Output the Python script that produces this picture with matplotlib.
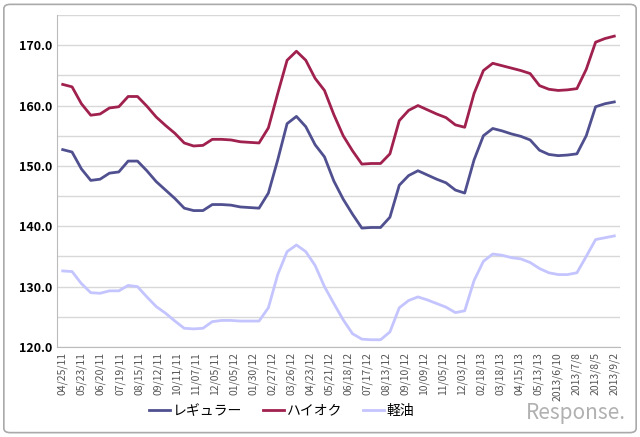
import matplotlib
matplotlib.use("Agg")
import matplotlib.pyplot as plt
from matplotlib.patches import FancyBboxPatch

tick_labels = ["04/25/11","05/23/11","06/20/11","07/19/11","08/15/11","09/12/11","10/11/11",
               "11/07/11","12/05/11","01/05/12","01/30/12","02/27/12","03/26/12","04/23/12",
               "05/21/12","06/18/12","07/17/12","08/13/12","09/10/12","10/09/12","11/05/12",
               "12/03/12","02/18/13","03/18/13","04/15/13","05/13/13","2013/6/10","2013/7/8",
               "2013/8/5","2013/9/2"][:29] if False else \
              ["04/25/11","05/23/11","06/20/11","07/19/11","08/15/11","09/12/11","10/11/11",
               "11/07/11","12/05/11","01/05/12","01/30/12","02/27/12","03/26/12","04/23/12",
               "05/21/12","06/18/12","07/17/12","08/13/12","09/10/12","10/09/12","11/05/12",
               "12/03/12","02/18/13","03/18/13","04/15/13","05/13/13","2013/6/10","2013/7/8",
               "2013/8/5","2013/9/2"]

regular = [152.7,152.3,149.5,147.6,147.8,148.8,149.0,150.8,150.8,149.2,147.4,146.0,144.6,143.0,
           142.6,142.6,143.6,143.6,143.5,143.2,143.1,143.0,145.5,151.0,157.0,158.2,156.5,153.5,
           151.5,147.5,144.5,142.0,139.7,139.8,139.8,141.5,146.8,148.4,149.2,148.5,147.8,147.2,
           146.0,145.5,151.0,155.0,156.2,155.8,155.3,154.9,154.3,152.6,151.9,151.7,151.8,152.0,
           155.0,159.8,160.3,160.6]
hioc    = [163.5,163.1,160.3,158.4,158.6,159.6,159.8,161.5,161.5,159.9,158.1,156.7,155.4,153.8,
           153.3,153.4,154.4,154.4,154.3,154.0,153.9,153.8,156.3,162.0,167.5,169.0,167.5,164.5,
           162.5,158.5,155.0,152.5,150.3,150.4,150.4,152.0,157.5,159.2,160.0,159.3,158.6,158.0,
           156.8,156.4,162.0,165.8,167.0,166.6,166.2,165.8,165.3,163.3,162.7,162.5,162.6,162.8,
           166.0,170.5,171.1,171.5]
diesel  = [132.6,132.5,130.5,129.0,128.9,129.3,129.3,130.2,130.0,128.3,126.7,125.6,124.3,123.1,
           123.0,123.1,124.2,124.4,124.4,124.3,124.3,124.3,126.5,132.0,135.8,136.9,135.8,133.5,
           130.0,127.2,124.5,122.2,121.3,121.2,121.2,122.5,126.5,127.7,128.3,127.8,127.2,126.6,
           125.7,126.0,131.0,134.2,135.4,135.2,134.8,134.6,134.0,133.0,132.3,132.0,132.0,132.3,
           135.0,137.8,138.1,138.4]

names = ["レギュラー", "ハイオク", "軽油"]
colors = ["#505090", "#A0204E", "#C4C4FF"]

plt.rcParams["font.family"] = ["Noto Sans CJK JP", "DejaVu Sans"]
fig = plt.figure(figsize=(6.4, 4.37), dpi=100)
fig.patches.append(FancyBboxPatch((0.006, 0.01), 0.988, 0.98, boxstyle="round,pad=0,rounding_size=0.01",
                                  transform=fig.transFigure, fill=False, ec="#AAAAAA", lw=1.2))
ax = fig.add_axes([57/640, 1-347/437, 563/640, 332/437])
n = len(regular)
step = (len(tick_labels) - 1) / (n - 1)
xs = [i * step for i in range(n)]
for vals, c, nm in zip([regular, hioc, diesel], colors, names):
    ax.plot(xs, vals, color=c, lw=2, label=nm)
ax.set_xlim(-0.3, len(tick_labels) - 1 + 0.3)
ax.set_ylim(120, 175)
ax.set_yticks([120, 130, 140, 150, 160, 170])
ax.set_yticklabels([f"{v:.1f}" for v in [120, 130, 140, 150, 160, 170]], fontsize=9, fontweight="bold")
ax.set_yticks(range(120, 176, 5), minor=True)
ax.grid(True, which="both", axis="y", color="#D8D8D8", lw=1)
ax.tick_params(axis="y", which="both", length=0)
ax.set_xticks(range(len(tick_labels)))
ax.set_xticklabels(tick_labels, rotation=90, fontsize=7.5, color="#555555")
ax.tick_params(axis="x", length=0)
for s in ["top", "right"]:
    ax.spines[s].set_visible(False)
for s in ["left", "bottom"]:
    ax.spines[s].set_color("#BBBBBB")
ax.set_axisbelow(True)
fig.legend(loc="center", bbox_to_anchor=(0.44, 0.06), ncol=3, frameon=False, fontsize=10,
           handlelength=1.5, handletextpad=0.2, columnspacing=1.5)
fig.text(0.9, 0.055, "Response.", fontsize=15, color="#B0B0B0", ha="center", va="center", style="italic")
fig.savefig("out.png", dpi=100)
